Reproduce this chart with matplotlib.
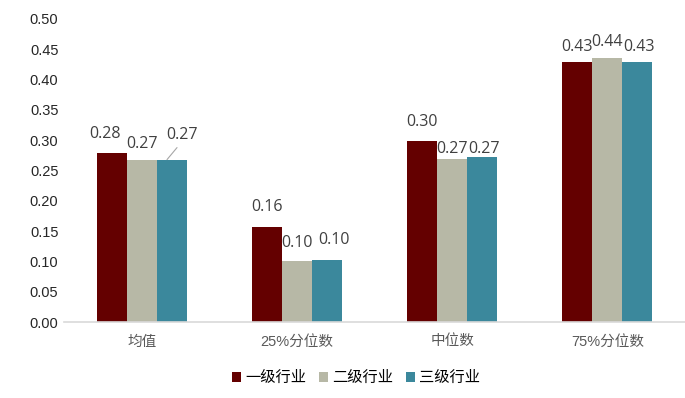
import numpy as np
import matplotlib
matplotlib.use("Agg")
import matplotlib.pyplot as plt

# chart data
categories = ["均值", "25%分位数", "中位数", "75%分位数"]
series_names = ["一级行业", "二级行业", "三级行业"]
level1 = [0.279, 0.157, 0.299, 0.429]
level2 = [0.267, 0.101, 0.269, 0.436]
level3 = [0.268, 0.102, 0.272, 0.429]

colors = ["#640000", "#B7B8A6", "#3B889C"]

# label offsets in pixels (dx, dy) per series, per category -- mimics Excel auto placement
label_offsets = [
    [(-7, 19), (0, 20), (0, 19), (0, 15)],
    [(0, 16), (0, 18), (0, 10), (0, 16)],
    [(10, 25), (7, 20), (2, 8), (2, 15)],
]

plt.rcParams["font.family"] = ["Liberation Sans", "Noto Sans CJK SC"]

fig = plt.figure(figsize=(6.85, 3.98), dpi=100)
ax = fig.add_axes([64 / 685, 1 - 322 / 398, 1 - 64 / 685, (322 - 19) / 398])

x = np.arange(len(categories))
width = 30 / 155
all_series = [level1, level2, level3]

for i, (vals, name, col) in enumerate(zip(all_series, series_names, colors)):
    pos = x + (i - 1) * width
    ax.bar(pos, vals, width, color=col, label=name, linewidth=0)
    for j, (px, v) in enumerate(zip(pos, vals)):
        dx, dy = label_offsets[i][j]
        ax.annotate("%.2f" % v, xy=(px, v), xytext=(dx, dy),
                    textcoords="offset pixels", ha="center", va="center",
                    fontsize=11.5, color="#404040", family=["Open Sans"])
        if i == 2 and j == 0:
            # leader line from bar top towards the moved label
            ax.annotate("", xy=(px - 0.03, v), xytext=(10, 12),
                        textcoords="offset pixels",
                        arrowprops=dict(arrowstyle="-", color="#A6A6A6", lw=0.8,
                                        shrinkA=0, shrinkB=0))

ax.set_xlim(-0.5, len(categories) - 0.5)
ax.set_ylim(0, 0.5)
ax.set_yticks(np.arange(0, 0.51, 0.05))
ax.set_yticklabels(["%.2f" % t for t in np.arange(0, 0.51, 0.05)], fontsize=10.5, color="#262626")
ax.set_xticks(x)
ax.set_xticklabels(categories, fontsize=10.5, color="#595959")
ax.tick_params(axis="both", length=0)
ax.tick_params(axis="x", pad=9)
ax.tick_params(axis="y", pad=4)

for s in ["top", "right", "left"]:
    ax.spines[s].set_visible(False)
ax.spines["bottom"].set_color("#D9D9D9")
ax.spines["bottom"].set_linewidth(1.2)

fig.legend(loc="center", bbox_to_anchor=(356 / 685, 1 - 378 / 398), ncol=3,
           frameon=False, fontsize=11, handlelength=0.6, handleheight=0.6,
           handletextpad=0.3, columnspacing=0.8)

fig.savefig("out.png", dpi=100)
